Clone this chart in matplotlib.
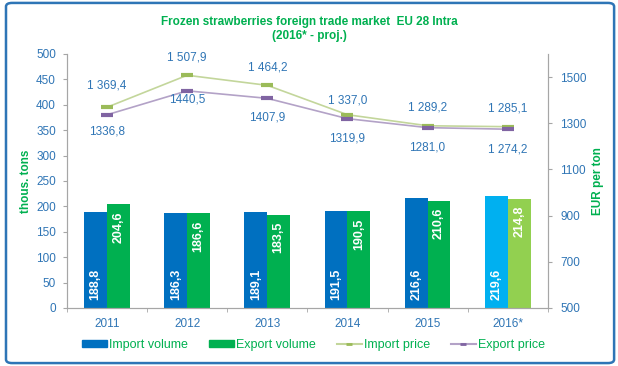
import matplotlib.pyplot as plt
from matplotlib.patches import FancyBboxPatch, Patch
from matplotlib.lines import Line2D
import numpy as np

plt.rcParams['font.family'] = ['Liberation Sans', 'DejaVu Sans']

years = ['2011', '2012', '2013', '2014', '2015', '2016*']
import_vol = [188.8, 186.3, 189.1, 191.5, 216.6, 219.6]
export_vol = [204.6, 186.6, 183.5, 190.5, 210.6, 214.8]
import_price = [1369.4, 1507.9, 1464.2, 1337.0, 1289.2, 1285.1]
export_price = [1336.8, 1440.5, 1407.9, 1319.9, 1281.0, 1274.2]
import_price_lbl = ['1 369,4', '1 507,9', '1 464,2', '1 337,0', '1 289,2', '1 285,1']
export_price_lbl = ['1336,8', '1440,5', '1407,9', '1319,9', '1281,0', '1 274,2']

blue = '#0070C0'
green = '#00B050'
txt_blue = '#2F75B5'
gray = '#A6A6A6'

fig = plt.figure(figsize=(6.18, 3.66), dpi=100)
ax = fig.add_axes([0.1084, 0.1585, 0.778, 0.694])
ax2 = ax.twinx()

x = np.arange(len(years))
w = 0.285
imp_colors = [blue] * 5 + ['#00B0F0']
exp_colors = [green] * 5 + ['#92D050']
ax.bar(x - w / 2, import_vol, w, color=imp_colors)
ax.bar(x + w / 2, export_vol, w, color=exp_colors)

for i in range(len(years)):
    ax.text(x[i] - w / 2, 15, f'{import_vol[i]:.1f}'.replace('.', ','), rotation=90,
            ha='center', va='bottom', color='white', fontsize=9, fontweight='bold')
    ax.text(x[i] + w / 2, export_vol[i] - 14, f'{export_vol[i]:.1f}'.replace('.', ','), rotation=90,
            ha='center', va='top', color='white', fontsize=9, fontweight='bold')

ax2.plot(x, import_price, color='#C3D69B', lw=1.2, marker='_', ms=9, mew=3, mec='#9BBB59', zorder=3)
ax2.plot(x, export_price, color='#B3A2C7', lw=1.2, marker='_', ms=9, mew=3, mec='#8064A2', zorder=3)

imp_off = [22, 18, 18, 14, 18, 18]
exp_off = [-17, -9, -19, -20, -20, -20]
for i in range(len(years)):
    ax2.annotate(import_price_lbl[i], (x[i], import_price[i]), xytext=(0, imp_off[i]),
                 textcoords='offset pixels', ha='center', va='center', color=txt_blue, fontsize=8.5)
    ax2.annotate(export_price_lbl[i], (x[i], export_price[i]), xytext=(0, exp_off[i]),
                 textcoords='offset pixels', ha='center', va='center', color=txt_blue, fontsize=8.5)

ax.set_xlim(-0.5, len(years) - 0.5)
ax.set_ylim(0, 500)
ax.set_yticks(np.arange(0, 501, 50))
ax2.set_ylim(500, 1600)
ax2.set_yticks(np.arange(500, 1501, 200))
ax.set_xticks(x)
ax.set_xticklabels(years)
ax.set_xticks(np.arange(-0.5, len(years), 1), minor=True)
ax.tick_params(axis='x', which='major', length=0, pad=7, colors=txt_blue, labelsize=8.5)
ax.tick_params(axis='x', which='minor', length=3, color=gray)
ax.tick_params(axis='y', length=3, color=gray, labelcolor=txt_blue, labelsize=8.5, pad=5)
ax2.tick_params(axis='y', length=3, color=gray, labelcolor=txt_blue, labelsize=8.5, pad=6)

for a in (ax, ax2):
    a.spines['top'].set_visible(False)
    for s in ('left', 'right', 'bottom'):
        a.spines[s].set_color(gray)

ax.set_ylabel('thous. tons', color=green, fontweight='bold', fontsize=8.5, labelpad=3)
ax2.set_ylabel('EUR per ton', color=green, fontweight='bold', fontsize=8.5, labelpad=4)

fig.text(0.5, 0.955, 'Frozen strawberries foreign trade market  EU 28 Intra\n(2016* - proj.)',
         ha='center', va='top', color=green, fontweight='bold', fontsize=8.5, linespacing=1.2)

handles = [Patch(color=blue), Patch(color=green),
           Line2D([], [], color='#C3D69B', marker='_', mec='#9BBB59', ms=4, mew=2),
           Line2D([], [], color='#B3A2C7', marker='_', mec='#8064A2', ms=4, mew=2)]
labels = ['Import volume', 'Export volume', 'Import price', 'Export price']
leg = fig.legend(handles, labels, loc='center', bbox_to_anchor=(0.507, 0.058), ncol=4, frameon=False,
                 fontsize=9, handlelength=2.0, handleheight=0.45, columnspacing=1.7, handletextpad=0.15)
for t in leg.get_texts():
    t.set_color(green)

fig.patches.append(FancyBboxPatch((0.0097, 0.008), 0.984, 0.984, boxstyle='round,pad=0,rounding_size=0.01',
                                  transform=fig.transFigure, fill=False, ec='#2E75B6', lw=1.8))

fig.savefig('out.png', dpi=100)
